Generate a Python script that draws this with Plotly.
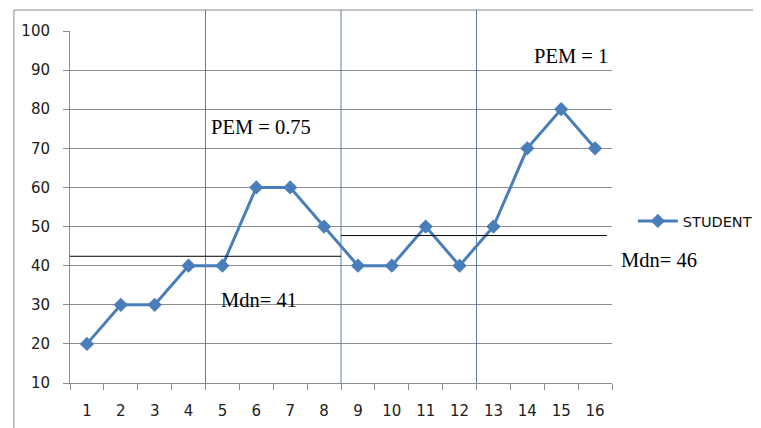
import plotly.graph_objects as go

sessions = list(range(1, 17))
student = [20, 30, 30, 40, 40, 60, 60, 50, 40, 40, 50, 40, 50, 70, 80, 70]
phase_breaks = [4.5, 8.5, 12.5]
median_segments = [(0.5, 8.5, 42.4), (8.5, 16.35, 47.7)]
annotations_text = [
    ("PEM = 0.75", 4.6, 75.5),
    ("PEM = 1", 14.13, 93.5),
    ("Mdn= 41", 4.89, 31.2),
    ("Mdn= 46", 16.7, 41.4),
]
y_ticks = list(range(10, 101, 10))
x_range = [0.5, 16.5]

W, H = 761, 428
OFFX, OFFY = 7, 8  # page offset of the figure inside the window
L, T = 69 - OFFX, 31 - OFFY
R = 153
B = H - (383 - OFFY)
pw, ph = W - L - R, H - T - B

def px_to_paper_x(px):
    return (px - OFFX - L) / pw

def px_to_paper_y(py):
    return (H - B - (py - OFFY)) / ph

def data_to_paper_x(xv):
    return (xv - x_range[0]) / (x_range[1] - x_range[0])

line_color = "#4A7EBB"
grid_color = "#8C8C8C"
sep_color = "#5A80AA"

fig = go.Figure()
fig.add_trace(go.Scatter(
    x=sessions, y=student, mode="lines+markers", name="STUDENT",
    line=dict(color=line_color, width=3),
    marker=dict(symbol="diamond", size=11, color=line_color),
    cliponaxis=False,
))

shapes = []
top_paper = px_to_paper_y(10)
for xb in phase_breaks:
    shapes.append(dict(type="line", xref="x", yref="paper", x0=xb, x1=xb,
                       y0=0, y1=top_paper, line=dict(color=sep_color, width=1)))
for x0, x1, yv in median_segments:
    shapes.append(dict(type="line", xref="x", yref="y", x0=x0, x1=x1,
                       y0=yv, y1=yv, line=dict(color="#000000", width=1)))
# outer chart border
shapes.append(dict(type="rect", xref="paper", yref="paper",
                   x0=px_to_paper_x(12.5), x1=px_to_paper_x(800),
                   y0=px_to_paper_y(480), y1=top_paper,
                   line=dict(color="#8A8A8A", width=1), layer="below"))

anns = []
for txt, ax, ay in annotations_text:
    anns.append(dict(text=txt, x=data_to_paper_x(ax), y=ay, xref="paper", yref="y",
                     showarrow=False, xanchor="left", yanchor="middle",
                     font=dict(family="Liberation Serif", size=20.5, color="#000000")))

fig.update_layout(
    width=W, height=H,
    margin=dict(l=L, r=R, t=T, b=B),
    paper_bgcolor="white", plot_bgcolor="white",
    shapes=shapes, annotations=anns,
    font=dict(family="DejaVu Sans", size=15, color="#202020"),
    showlegend=True,
    legend=dict(x=px_to_paper_x(636), y=px_to_paper_y(221), xanchor="left", yanchor="middle",
                font=dict(family="DejaVu Sans", size=14.5, color="#111111"),
                bgcolor="rgba(0,0,0,0)", itemwidth=40),
    xaxis=dict(range=x_range, tickmode="array", tickvals=sessions,
               ticktext=[str(s) for s in sessions], ticks="", showgrid=False,
               showline=True, linecolor=grid_color, linewidth=1, zeroline=False,
               ticklabelstandoff=14, tickfont=dict(size=15),
               minor=dict(tickvals=[i + 0.5 for i in range(0, 17)], ticks="outside",
                          ticklen=6, tickcolor=grid_color, showgrid=False)),
    yaxis=dict(range=[10, 100], tickvals=y_ticks, ticks="outside", ticklen=6,
               tickcolor=grid_color, showgrid=True, gridcolor=grid_color, gridwidth=1,
               showline=True, linecolor=grid_color, linewidth=1, zeroline=False,
               ticklabelstandoff=10, tickfont=dict(size=15)),
)

fig.write_html("out.html")
